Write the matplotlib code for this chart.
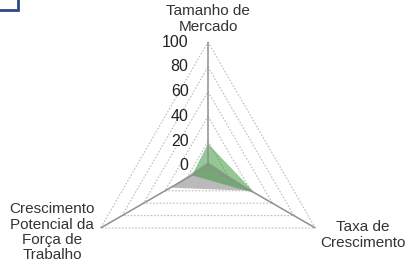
import numpy as np
import matplotlib
matplotlib.use("Agg")
from matplotlib import pyplot as plt
from matplotlib.patches import Rectangle

# categories, clockwise from the top
categorias = ["Tamanho de\nMercado", "Taxa de\nCrescimento",
              "Crescimento\nPotencial da\nForça de\nTrabalho"]
serie_cinza = [3, 40, 35]
serie_verde = [18, 44, 15]
ticks = [0, 20, 40, 60, 80, 100]

plt.rcParams['font.family'] = ['Liberation Sans', 'DejaVu Sans']

n = len(categorias)
ang = np.linspace(0, 2 * np.pi, n, endpoint=False)
ang_fechado = np.append(ang, ang[0])

fig = plt.figure(figsize=(4.09, 2.65), dpi=100)
W, H = 409, 265
cx, cy, R = 208, 166, 124
ax = fig.add_axes([(cx - R) / W, (H - cy - R) / H, 2 * R / W, 2 * R / H],
                  projection="polar")
ax.set_theta_offset(np.pi / 2)
ax.set_theta_direction(-1)
ax.set_ylim(0, 100)
ax.grid(False)
ax.spines["polar"].set_visible(False)
ax.set_xticks([])
ax.set_yticks([])
ax.patch.set_alpha(0)

# dotted triangular grid
for t in ticks[1:]:
    ax.plot(ang_fechado, [t] * (n + 1), color="#bdbdbd", lw=0.8,
            ls=(0, (1.5, 1.5)), zorder=1)
# spokes
for a in ang:
    ax.plot([a, a], [0, 100], color="#8f8f8f", lw=1.1, zorder=4)

# series
ax.fill(ang_fechado, np.append(serie_cinza, serie_cinza[0]),
        color="#bababa", zorder=2, lw=0)
ax.fill(ang_fechado, np.append(serie_verde, serie_verde[0]),
        color="#3f9a3f", alpha=0.55, zorder=3, lw=0)

# tick labels along the top axis
for t in ticks:
    ax.annotate(str(t), xy=(0, t), xytext=(-14, 0), textcoords="offset points",
                ha="right", va="center", fontsize=11.5, color="#222222")

fs = 11
ls = 1.12
# category labels
ax.annotate(categorias[0], xy=(0, 100), xytext=(0, 6), textcoords="offset points",
            ha="center", va="bottom", fontsize=fs, color="#333333",
            linespacing=ls, annotation_clip=False)
ax.annotate(categorias[1], xy=(ang[1], 100), xytext=(34, -5), textcoords="offset points",
            ha="center", va="center", fontsize=fs, color="#333333",
            linespacing=ls, annotation_clip=False)
ax.annotate(categorias[2], xy=(ang[2], 100), xytext=(-35, -3), textcoords="offset points",
            ha="center", va="center", fontsize=fs, color="#333333",
            linespacing=ls, annotation_clip=False)

# corner of the frame at top-left
fig.patches.append(Rectangle((-0.05, 1 - 10 / H), 0.05 + 18 / W, 0.1,
                             transform=fig.transFigure, fill=False,
                             edgecolor="#2b4a8a", lw=2))

fig.savefig("out.png", dpi=100)
